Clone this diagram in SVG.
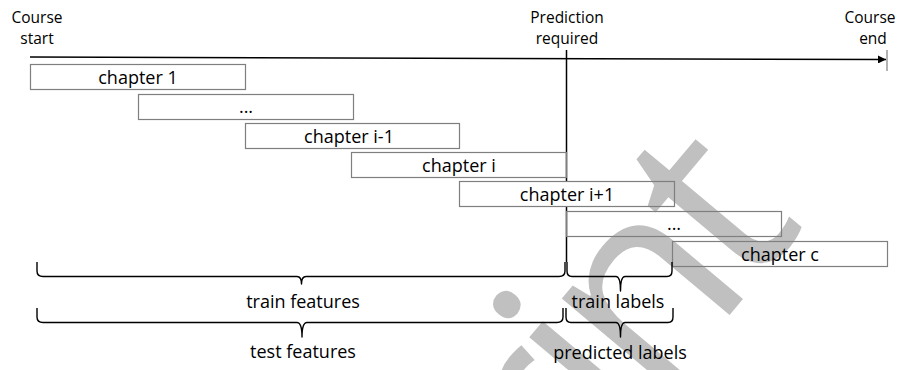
<svg xmlns="http://www.w3.org/2000/svg" width="898" height="370" viewBox="0 0 898 370">
  <defs>
    <style>
      .lbl { font-family: "Open Sans", "Liberation Sans", sans-serif; font-size: 15.5px; fill: #000; text-anchor: middle; }
      .chap rect { fill: none; stroke: #7f7f7f; stroke-width: 1.2; }
      .chap text { font-family: "Open Sans", "Liberation Sans", sans-serif; font-size: 18px; fill: #000; text-anchor: middle; }
      .brace { fill: none; stroke: #000; stroke-width: 1.4; stroke-linejoin: round; }
      .span { font-family: "Open Sans", "Liberation Sans", sans-serif; font-size: 18px; fill: #000; text-anchor: middle; }
      .mark { font-family: "Open Sans", "Liberation Sans", sans-serif; font-size: 260px; letter-spacing: -15px; fill: #c0c0c0; }
    </style>
    <marker id="arrow" viewBox="0 0 10 10" refX="10" refY="5" markerWidth="9" markerHeight="8" markerUnits="userSpaceOnUse" orient="auto">
      <path d="M0,0 L10,5 L0,10 z" fill="#000"/>
    </marker>
  </defs>

  <rect width="898" height="370" fill="#fff"/>

  <!-- diagonal stamp, behind everything -->
  <text class="mark" transform="translate(472,622) rotate(-50)">Print</text>

  <!-- timeline and the prediction cut-off (the cut-off stops at the chapter i+1 box) -->
  <g id="connectors">
    <line x1="566.5" y1="50" x2="566.5" y2="181.5" stroke="#000" stroke-width="1.5"/>
    <line x1="566.5" y1="206.5" x2="566.5" y2="262" stroke="#000" stroke-width="1.5"/>
    <line x1="30" y1="57" x2="886" y2="59.5" stroke="#000" stroke-width="1.5" marker-end="url(#arrow)"/>
    <line x1="887" y1="50" x2="887" y2="71" stroke="#7f7f7f" stroke-width="1.2"/>
  </g>

  <!-- time markers -->
  <g id="course-start">
    <text class="lbl" x="37" y="23">Course</text>
    <text class="lbl" x="37" y="44">start</text>
  </g>
  <g id="prediction-required">
    <text class="lbl" x="567" y="23">Prediction</text>
    <text class="lbl" x="567" y="44">required</text>
  </g>
  <g id="course-end">
    <text class="lbl" x="870" y="23">Course</text>
    <text class="lbl" x="873" y="44">end</text>
  </g>

  <!-- chapters -->
  <g id="chapter-1" class="chap">
    <rect x="30.5" y="64.5" width="215" height="25"/>
    <text x="138" y="83.5">chapter 1</text>
  </g>
  <g id="chapter-dots-1" class="chap">
    <rect x="138.5" y="94.5" width="215" height="25"/>
    <text x="246" y="113">...</text>
  </g>
  <g id="chapter-i-minus-1" class="chap">
    <rect x="245.5" y="123.5" width="214" height="25"/>
    <text x="349" y="142.5">chapter i-1</text>
  </g>
  <g id="chapter-i" class="chap">
    <rect x="351.5" y="152.5" width="215" height="25"/>
    <text x="459" y="171.5">chapter i</text>
  </g>
  <g id="chapter-i-plus-1" class="chap">
    <rect x="459.5" y="181.5" width="215" height="25"/>
    <text x="567" y="200.5">chapter i+1</text>
  </g>
  <g id="chapter-dots-2" class="chap">
    <rect x="566.5" y="211.5" width="215" height="25"/>
    <text x="674" y="230">...</text>
  </g>
  <g id="chapter-c" class="chap">
    <rect x="672.5" y="241.5" width="215" height="25"/>
    <text x="780" y="260.5">chapter c</text>
  </g>

  <!-- spans -->
  <g id="train-features">
    <path class="brace" d="M37,262 L37,271 Q37,276.5 43,276.5 L297,276.5 Q301.5,276.5 301.5,284 Q301.5,276.5 306,276.5 L559,276.5 Q565,276.5 565,271 L565,262"/>
    <text class="span" x="303" y="307.5">train features</text>
  </g>
  <g id="train-labels">
    <path class="brace" d="M567,262 L567,271 Q567,276.5 572,276.5 L616,276.5 Q620.5,276.5 620.5,291 Q620.5,276.5 625,276.5 L667,276.5 Q672,276.5 672,271 L672,262"/>
    <text class="span" x="618" y="307.5">train labels</text>
  </g>
  <g id="test-features">
    <path class="brace" d="M37,308 L37,317 Q37,322.5 43,322.5 L297,322.5 Q302,322.5 302,337 Q302,322.5 307,322.5 L557,322.5 Q563,322.5 563,317 L563,308"/>
    <text class="span" x="303" y="358">test features</text>
  </g>
  <g id="predicted-labels">
    <path class="brace" d="M566,308 L566,317 Q566,322.5 571,322.5 L616,322.5 Q620.5,322.5 620.5,337 Q620.5,322.5 625,322.5 L668,322.5 Q673,322.5 673,317 L673,308"/>
    <text class="span" x="620" y="359">predicted labels</text>
  </g>
</svg>
